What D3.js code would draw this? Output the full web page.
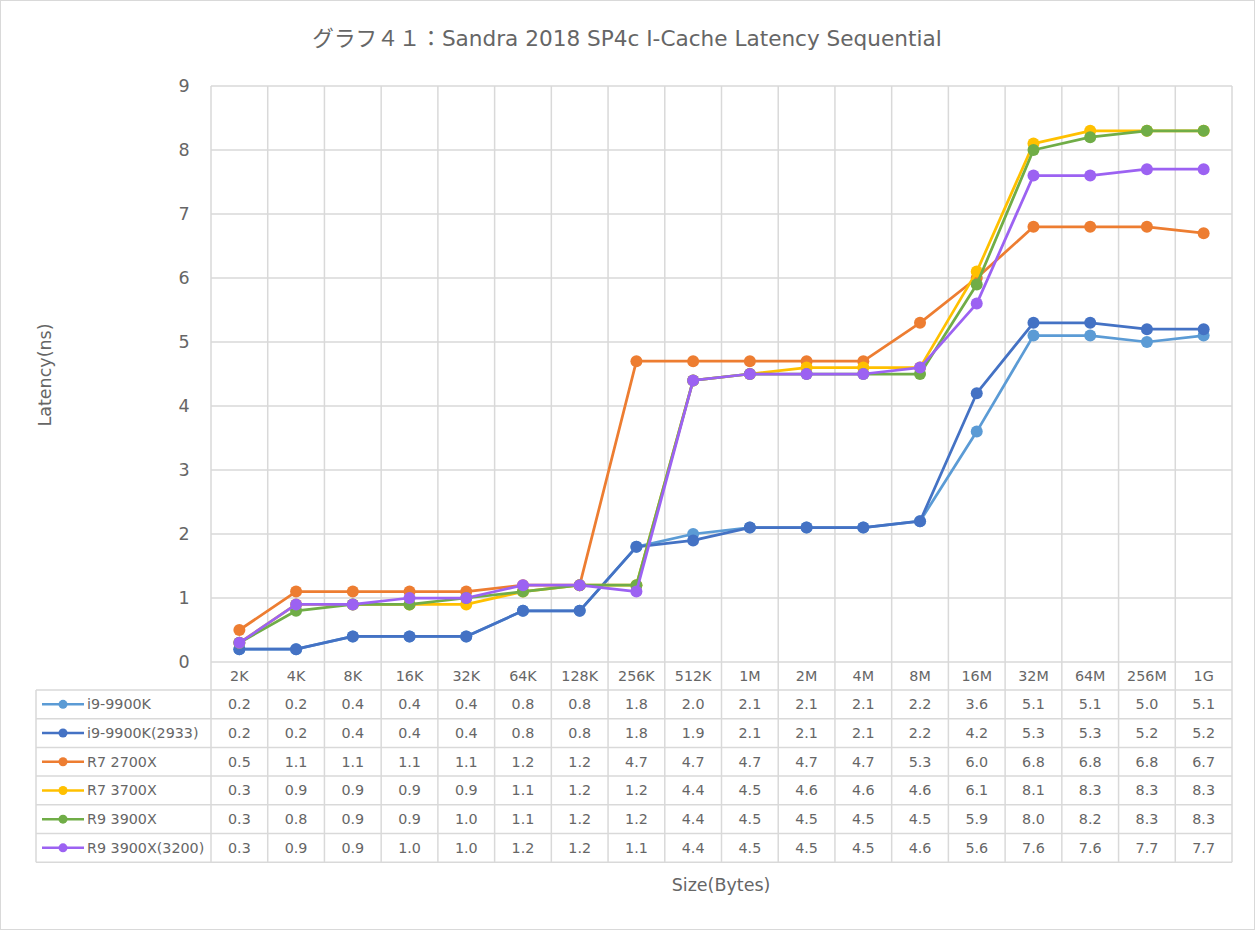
<!DOCTYPE html>
<html>
<head>
<meta charset="utf-8">
<script src="https://cdn.jsdelivr.net/npm/d3@7"></script>
<style>
  body { margin: 0; background: #fff; }
  svg { font-family: "DejaVu Sans", "Noto Sans CJK JP", sans-serif; }
</style>
</head>
<body>
<div id="chart"></div>
<script>
const sizes = ['2K', '4K', '8K', '16K', '32K', '64K', '128K', '256K', '512K', '1M', '2M', '4M', '8M', '16M', '32M', '64M', '256M', '1G'];
const seriesNames = ['i9-9900K', 'i9-9900K(2933)', 'R7 2700X', 'R7 3700X', 'R9 3900X', 'R9 3900X(3200)'];
const seriesColors = ['#5b9bd5', '#4472c4', '#ed7d31', '#ffc000', '#70ad47', '#9c62f2'];
const i9_9900k = [0.2, 0.2, 0.4, 0.4, 0.4, 0.8, 0.8, 1.8, 2.0, 2.1, 2.1, 2.1, 2.2, 3.6, 5.1, 5.1, 5.0, 5.1];
const i9_9900k_2933 = [0.2, 0.2, 0.4, 0.4, 0.4, 0.8, 0.8, 1.8, 1.9, 2.1, 2.1, 2.1, 2.2, 4.2, 5.3, 5.3, 5.2, 5.2];
const r7_2700x = [0.5, 1.1, 1.1, 1.1, 1.1, 1.2, 1.2, 4.7, 4.7, 4.7, 4.7, 4.7, 5.3, 6.0, 6.8, 6.8, 6.8, 6.7];
const r7_3700x = [0.3, 0.9, 0.9, 0.9, 0.9, 1.1, 1.2, 1.2, 4.4, 4.5, 4.6, 4.6, 4.6, 6.1, 8.1, 8.3, 8.3, 8.3];
const r9_3900x = [0.3, 0.8, 0.9, 0.9, 1.0, 1.1, 1.2, 1.2, 4.4, 4.5, 4.5, 4.5, 4.5, 5.9, 8.0, 8.2, 8.3, 8.3];
const r9_3900x_3200 = [0.3, 0.9, 0.9, 1.0, 1.0, 1.2, 1.2, 1.1, 4.4, 4.5, 4.5, 4.5, 4.6, 5.6, 7.6, 7.6, 7.7, 7.7];
const yTicks = [0, 1, 2, 3, 4, 5, 6, 7, 8, 9];

const series = seriesNames.map((name, i) => ({
    name: name,
    color: seriesColors[i],
    values: [i9_9900k, i9_9900k_2933, r7_2700x, r7_3700x, r9_3900x, r9_3900x_3200][i]
}));

const width = 1256, height = 932;
const plotLeft = 211, plotRight = 1232, plotTop = 86, plotBottom = 662;
const tableLeft = 36, headerH = 28, rowH = 28.7;
const textColor = '#666666', gridColor = '#d9d9d9';

const svg = d3.select('#chart').append('svg')
    .attr('width', width)
    .attr('height', height);

svg.append('rect')
    .attr('x', 0.5).attr('y', 0.5)
    .attr('width', width - 2).attr('height', height - 3)
    .attr('fill', '#fff')
    .attr('stroke', '#d9d9d9');

const x = d3.scaleBand().domain(sizes).range([plotLeft, plotRight]);
const y = d3.scaleLinear().domain([0, 9]).range([plotBottom, plotTop]);

const tableBottom = plotBottom + headerH + rowH * series.length;

// horizontal gridlines
svg.append('g')
    .selectAll('line')
    .data(yTicks)
    .join('line')
    .attr('x1', plotLeft).attr('x2', plotRight)
    .attr('y1', d => y(d)).attr('y2', d => y(d))
    .attr('stroke', gridColor).attr('stroke-width', 1.5);

// vertical gridlines through the plot and the table
const bounds = sizes.map(s => x(s)).concat([plotRight]);
svg.append('g')
    .selectAll('line')
    .data(bounds)
    .join('line')
    .attr('x1', d => d).attr('x2', d => d)
    .attr('y1', plotTop).attr('y2', tableBottom)
    .attr('stroke', gridColor).attr('stroke-width', 1.5);

// table rows
const rowLines = d3.range(series.length + 1).map(i => plotBottom + headerH + rowH * i);
svg.append('g')
    .selectAll('line')
    .data(rowLines)
    .join('line')
    .attr('x1', tableLeft).attr('x2', plotRight)
    .attr('y1', d => d).attr('y2', d => d)
    .attr('stroke', gridColor).attr('stroke-width', 1.5);
svg.append('line')
    .attr('x1', tableLeft).attr('x2', tableLeft)
    .attr('y1', plotBottom + headerH).attr('y2', tableBottom)
    .attr('stroke', gridColor).attr('stroke-width', 1.5);

// y tick labels
svg.append('g')
    .selectAll('text')
    .data(yTicks)
    .join('text')
    .attr('x', 184)
    .attr('y', d => y(d))
    .attr('dy', '0.35em')
    .attr('text-anchor', 'middle')
    .attr('font-size', 17.5)
    .attr('fill', textColor)
    .text(d => d);

// category header
svg.append('g')
    .selectAll('text')
    .data(sizes)
    .join('text')
    .attr('x', d => x(d) + x.bandwidth() / 2)
    .attr('y', plotBottom + headerH / 2)
    .attr('dy', '0.35em')
    .attr('text-anchor', 'middle')
    .attr('font-size', 14.3)
    .attr('fill', textColor)
    .text(d => d);

// table values and legend keys
series.forEach((s, i) => {
    const cy = plotBottom + headerH + rowH * i + rowH / 2;
    const g = svg.append('g');
    g.append('line')
        .attr('x1', 42).attr('x2', 84)
        .attr('y1', cy).attr('y2', cy)
        .attr('stroke', s.color).attr('stroke-width', 2.5);
    g.append('circle')
        .attr('cx', 63).attr('cy', cy).attr('r', 4.5)
        .attr('fill', s.color);
    g.append('text')
        .attr('x', 87).attr('y', cy).attr('dy', '0.35em')
        .attr('font-size', 14.3).attr('fill', textColor)
        .text(s.name);
    g.selectAll('text.v')
        .data(s.values)
        .join('text')
        .attr('class', 'v')
        .attr('x', (d, j) => x(sizes[j]) + x.bandwidth() / 2)
        .attr('y', cy).attr('dy', '0.35em')
        .attr('text-anchor', 'middle')
        .attr('font-size', 14.3).attr('fill', textColor)
        .text(d => d.toFixed(1));
});

// series lines and markers
const line = d3.line()
    .x((d, j) => x(sizes[j]) + x.bandwidth() / 2)
    .y(d => y(d));

series.forEach(s => {
    const g = svg.append('g');
    g.append('path')
        .datum(s.values)
        .attr('fill', 'none')
        .attr('stroke', s.color)
        .attr('stroke-width', 2.75)
        .attr('stroke-linejoin', 'round')
        .attr('d', line);
    g.selectAll('circle')
        .data(s.values)
        .join('circle')
        .attr('cx', (d, j) => x(sizes[j]) + x.bandwidth() / 2)
        .attr('cy', d => y(d))
        .attr('r', 6)
        .attr('fill', s.color);
});

// titles
svg.append('text')
    .attr('x', 627).attr('y', 38).attr('dy', '0.35em')
    .attr('text-anchor', 'middle')
    .attr('font-size', 21.6).attr('fill', textColor)
    .text('グラフ４１：Sandra 2018 SP4c I-Cache Latency Sequential');

svg.append('text')
    .attr('transform', 'translate(45,375) rotate(-90)')
    .attr('dy', '0.35em')
    .attr('text-anchor', 'middle')
    .attr('font-size', 17.5).attr('fill', textColor)
    .text('Latency(ns)');

svg.append('text')
    .attr('x', 721).attr('y', 885).attr('dy', '0.35em')
    .attr('text-anchor', 'middle')
    .attr('font-size', 17.5).attr('fill', textColor)
    .text('Size(Bytes)');
</script>
</body>
</html>
